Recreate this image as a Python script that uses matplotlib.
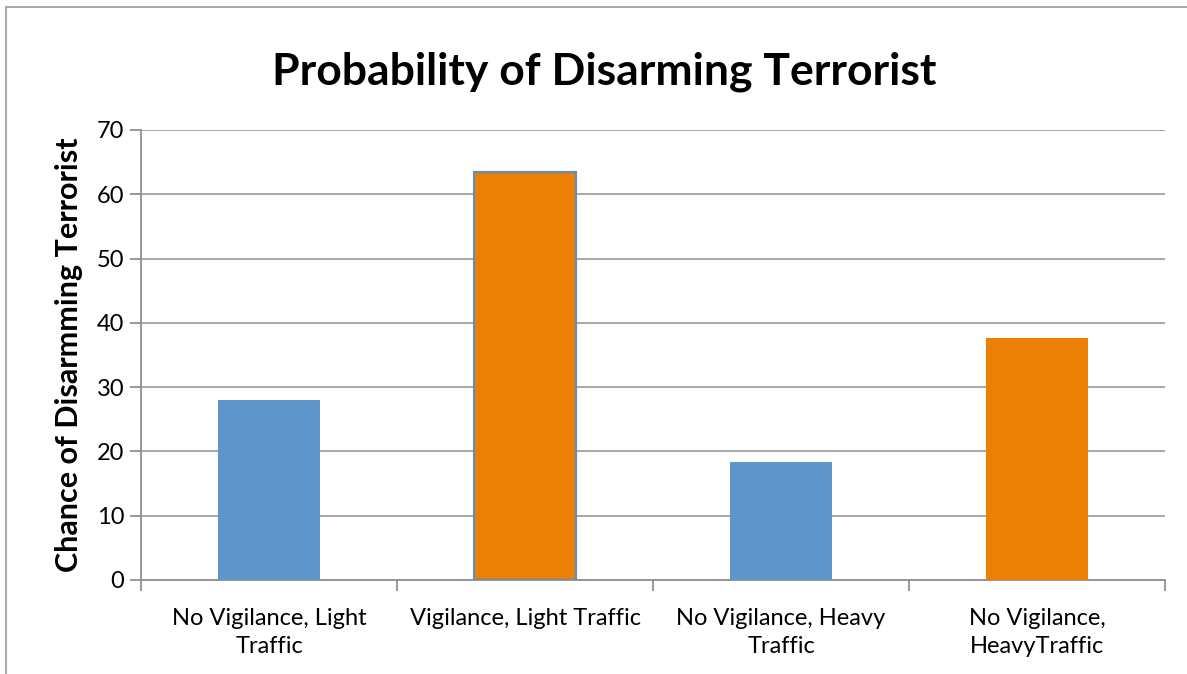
import matplotlib.pyplot as plt
from matplotlib.patches import Rectangle

categories = ['No Vigilance, Light\nTraffic', 'Vigilance, Light Traffic',
              'No Vigilance, Heavy\nTraffic', 'No Vigilance,\nHeavyTraffic']
values = [28.0, 63.5, 18.4, 37.6]
colors = ['#5F95C9', '#EA8005', '#5F95C9', '#EA8005']
yticks = [0, 10, 20, 30, 40, 50, 60, 70]


def main():
    plt.rcParams['font.family'] = ['Lato', 'DejaVu Sans']
    fig = plt.figure(figsize=(11.87, 6.74), dpi=100)
    ax = fig.add_axes([141 / 1187, 1 - 580 / 674, 1024 / 1187, 450 / 674])

    # outer chart frame
    fig.patches.append(Rectangle((6 / 1187, -0.05), 1.2, 1 - 7 / 674 + 0.05,
                                 transform=fig.transFigure, fill=False,
                                 edgecolor='#9a9a9a', linewidth=1.2))

    x = list(range(len(categories)))
    bars = ax.bar(x, values, width=0.4, color=colors, zorder=3)
    bars[1].set_edgecolor('#5B8FC5')
    bars[1].set_linewidth(1.5)

    ax.set_xlim(-0.5, 3.5)
    ax.set_ylim(0, 70)
    ax.set_yticks(yticks)
    ax.yaxis.grid(True, color='#a0a0a0', linewidth=1.3, zorder=0)
    ax.set_xticks(x)
    ax.set_xticklabels(categories, fontsize=17, linespacing=1.4)
    ax.set_xticks([-0.5, 0.5, 1.5, 2.5, 3.5], minor=True)
    ax.tick_params(axis='x', which='major', length=0, pad=20)
    ax.tick_params(axis='x', which='minor', length=8, color='#909090', width=1.3)
    ax.tick_params(axis='y', length=8, color='#909090', width=1.3, labelsize=17, pad=4)

    for side in ['top', 'right']:
        ax.spines[side].set_visible(False)
    for side in ['left', 'bottom']:
        ax.spines[side].set_color('#909090')
        ax.spines[side].set_linewidth(1.3)

    ax.set_ylabel('Chance of Disarmming Terrorist', fontsize=22, fontweight='bold', labelpad=10)
    fig.text(604 / 1187, 1 - 72 / 674, 'Probability of Disarming Terrorist',
             fontsize=32, fontweight='bold', ha='center', va='center')

    fig.savefig('out.png', dpi=100)


if __name__ == '__main__':
    main()
